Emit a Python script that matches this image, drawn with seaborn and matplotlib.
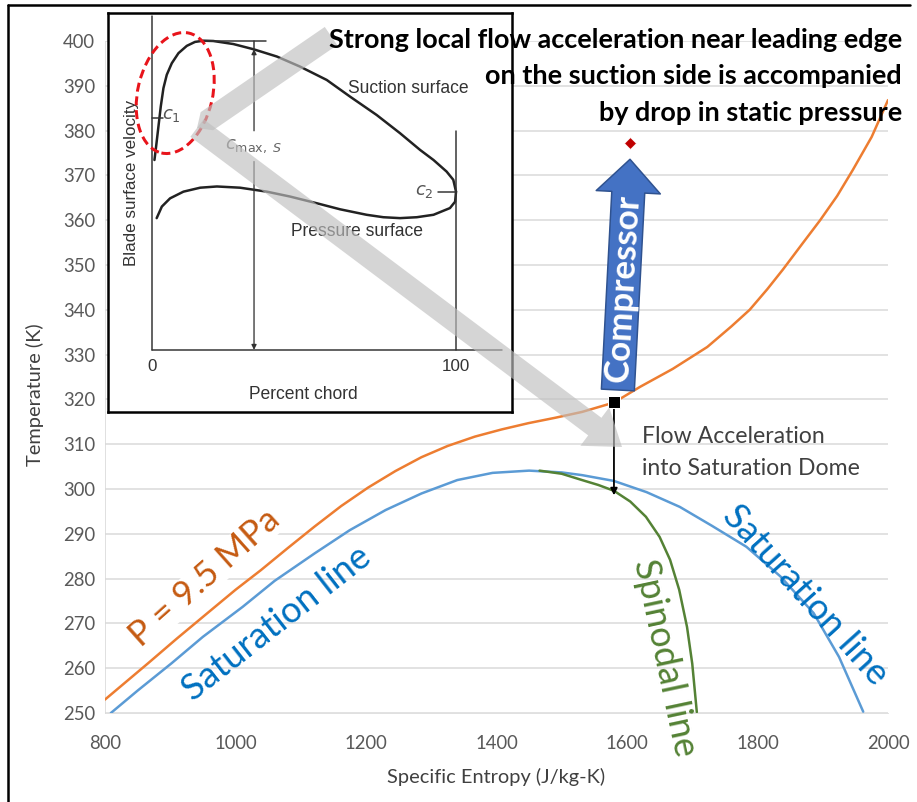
import numpy as np
import matplotlib
matplotlib.use("Agg")
import matplotlib.pyplot as plt
import seaborn as sns
from matplotlib.patches import Ellipse, FancyArrow

# P = 9.5 MPa isobar
isobar_s = [800, 866, 910, 957, 1000, 1039, 1080, 1121, 1162, 1203, 1245, 1285, 1325, 1367, 1408, 1449,
            1490, 1531, 1580, 1620, 1670, 1723, 1760, 1788, 1815, 1839, 1870, 1896, 1922, 1946, 1975, 2000]
isobar_T = [253, 261.1, 266.6, 272.3, 277.5, 281.9, 286.8, 291.6, 296.2, 300.3, 304.0, 307.1, 309.6, 311.7,
            313.3, 314.7, 315.9, 317.2, 319.3, 322.8, 326.8, 331.7, 336.3, 340, 344.6, 349.0, 355.0, 360,
            365.4, 371.2, 378.6, 386.8]

# saturation dome
sat_s = [809, 850, 902, 950, 1011, 1060, 1121, 1175, 1230, 1285, 1340, 1394, 1450, 1500, 1531, 1580,
         1630, 1681, 1730, 1783, 1835, 1886, 1925, 1962]
sat_T = [250, 255, 261.1, 267, 273.7, 279.5, 285.6, 290.8, 295.3, 299, 302, 303.6, 304.1, 303.7, 303.1,
         301.8, 299.3, 296, 291.8, 287.1, 280.5, 272.3, 262.5, 250.3]

# spinodal line
spin_s = [1466, 1500, 1531, 1556, 1580, 1605, 1629, 1650, 1666, 1680, 1692, 1700, 1707]
spin_T = [304.1, 303.4, 302, 300.9, 299.6, 297.2, 293.8, 289.3, 284.2, 277.5, 269.2, 261, 250.2]

# compressor inlet and outlet states
point_in_s, point_in_T = [1580], [319.5]
point_out_s, point_out_T = [1605], [377.2]

# inset: blade surface velocity vs percent chord
suction_x = [0.87, 1.41, 2.18, 2.95, 3.82, 4.92, 6.57, 8.76, 11.5, 14.2, 17.0, 20.2, 26.8, 33.4, 41.1,
             48.7, 57.5, 65.2, 73.9, 81.6, 88.2, 92.6, 96.9, 99.1, 100]
suction_v = [62.4, 66.8, 73.4, 80.0, 86.0, 90.4, 94.2, 97.5, 99.9, 101.2, 101.6, 101.5, 100.5, 98.8, 96.4,
             93.1, 88.7, 83.2, 77.2, 71.2, 65.7, 62.4, 58.6, 55.9, 52.0]
pressure_x = [100, 99.7, 98.0, 92.6, 87.1, 81.6, 76.1, 70.6, 61.9, 54.2, 45.4, 37.8, 29.0, 21.4, 15.9,
              10.4, 6.0, 3.3, 1.6]
pressure_v = [52.0, 48.7, 46.6, 44.4, 43.6, 43.3, 43.6, 44.4, 46.2, 48.2, 50.4, 52.0, 53.3, 53.7, 53.3,
              52.0, 49.8, 47.1, 43.3]

x_ticks = list(range(800, 2001, 200))
y_ticks = list(range(250, 401, 10))

ORANGE = "#ed7d31"
BLUE = "#5b9bd5"
GREEN = "#548235"

sns.set_style("white")
plt.rcParams["font.family"] = ["Lato", "DejaVu Sans"]

W, H = 917, 802
fig = plt.figure(figsize=(W / 72, H / 72), dpi=72)

# main T-s axes
ax = fig.add_axes([105 / W, 1 - 713 / H, 783 / W, 672 / H])
sns.lineplot(x=isobar_s, y=isobar_T, ax=ax, color=ORANGE, lw=2.5, sort=False, estimator=None, zorder=3)
sns.lineplot(x=sat_s, y=sat_T, ax=ax, color=BLUE, lw=2.5, sort=False, estimator=None, zorder=3)
sns.lineplot(x=spin_s, y=spin_T, ax=ax, color=GREEN, lw=2.5, sort=False, estimator=None, zorder=4)
sns.scatterplot(x=point_in_s, y=point_in_T, ax=ax, marker="s", s=160, color="black", zorder=6)
sns.scatterplot(x=point_out_s, y=point_out_T, ax=ax, marker="D", s=70, color="#c00000", zorder=6)

ax.set_xlim(800, 2000)
ax.set_ylim(250, 400)
ax.set_xticks(x_ticks)
ax.set_yticks(y_ticks)
ax.grid(axis="y", color="#d9d9d9", lw=1.5)
ax.grid(axis="x", visible=False)
for side in ["top", "right"]:
    ax.spines[side].set_visible(False)
ax.spines["left"].set_color("#d9d9d9")
ax.spines["bottom"].set_color("#d9d9d9")
ax.tick_params(length=0, labelsize=18.5, labelcolor="#595959")
ax.tick_params(axis="x", pad=22)
ax.tick_params(axis="y", pad=10)
ax.set_xlabel("Specific Entropy (J/kg-K)", fontsize=20, color="#404040")
ax.set_ylabel("Temperature (K)", fontsize=20, color="#404040")
ax.xaxis.set_label_coords(0.5, -0.082)
ax.yaxis.set_label_coords(-0.078, 0.473)

# compressor block arrow
ax.annotate("", xy=(1604.6, 373.6), xytext=(1586, 322.1),
            arrowprops=dict(arrowstyle="simple,head_width=1.07,head_length=0.55,tail_width=0.55",
                            mutation_scale=60, fc="#4472c4", ec="#2f528f", lw=1.5,
                            shrinkA=0, shrinkB=0), zorder=5)
ax.text(1594, 344.9, "Compressor", rotation=86.6, ha="center", va="center",
        color="white", fontsize=35, fontweight="bold", zorder=7)

# flow acceleration arrow
ax.annotate("", xy=(1580, 298.6), xytext=(1580, 319.5),
            arrowprops=dict(arrowstyle="-|>", color="black", lw=1.8, mutation_scale=14,
                            shrinkA=0, shrinkB=0), zorder=5)
ax.text(1623, 311.8, "Flow Acceleration", fontsize=23, color="#404040", va="center")
ax.text(1623, 304.6, "into Saturation Dome", fontsize=23, color="#404040", va="center")

ax.text(953, 280.1, "P = 9.5 MPa", rotation=41.7, ha="center", va="center", fontsize=35,
        color="#c55a11", zorder=4,
        bbox=dict(fc="white", ec="none", pad=0.0))
ax.text(1063, 270.1, "Saturation line", rotation=38, ha="center", va="center", fontsize=36,
        color="#0070c0", zorder=4)
ax.text(1873, 276.3, "Saturation line", rotation=-48, ha="center", va="center", fontsize=36,
        color="#0070c0", zorder=4)
ax.text(1658, 262.3, "Spinodal line", rotation=-78, ha="center", va="center", fontsize=36,
        color=GREEN, zorder=4, clip_on=False)

# inset: blade surface velocity distribution
ax_in = fig.add_axes([108 / W, 1 - 412 / H, 404 / W, 399 / H], zorder=5)
ax_in.set_facecolor("white")
ax_in.set_xlim(-14.4, 118.4)
ax_in.set_ylim(-20.4, 110.7)
ax_in.set_xticks([])
ax_in.set_yticks([])
for sp in ax_in.spines.values():
    sp.set_visible(True)
    sp.set_color("black")
    sp.set_linewidth(2.5)

sns.lineplot(x=suction_x, y=suction_v, ax=ax_in, color="#222222", lw=2.5, sort=False, estimator=None)
sns.lineplot(x=pressure_x, y=pressure_v, ax=ax_in, color="#222222", lw=2.5, sort=False, estimator=None)
ax_in.set_xlabel("")
ax_in.set_ylabel("")

inset_line = dict(color="#333333", lw=1.5)
ax_in.plot([0, 0], [0, 109.8], **inset_line)
ax_in.plot([0, 115], [0, 0], **inset_line)
ax_in.plot([100, 100], [0, 72], **inset_line)
ax_in.plot([0, 3.8], [76.1, 76.1], **inset_line)
ax_in.plot([94, 100], [52, 52], **inset_line)
ax_in.plot([15.9, 37.6], [101.6, 101.6], **inset_line)
ax_in.annotate("", xy=(33.6, 98.8), xytext=(33.6, 72),
               arrowprops=dict(arrowstyle="-|>", color="#333333", lw=1.3, mutation_scale=10,
                               shrinkA=0, shrinkB=0))
ax_in.plot([33.6, 33.6], [98.8, 101.6], **inset_line)
ax_in.annotate("", xy=(33.6, 0), xytext=(33.6, 61.9),
               arrowprops=dict(arrowstyle="-|>", color="#333333", lw=1.3, mutation_scale=10,
                               shrinkA=0, shrinkB=0))

inset_font = ["Liberation Sans", "DejaVu Sans"]
ax_in.text(0, -5.3, "0", ha="center", va="center", fontsize=17, color="#333333", family=inset_font)
ax_in.text(100, -5.3, "100", ha="center", va="center", fontsize=17, color="#333333", family=inset_font)
ax_in.text(49.7, -14.5, "Percent chord", ha="center", va="center", fontsize=17.5, color="#333333",
           family=inset_font)
ax_in.text(-6.8, 55, "Blade surface velocity", rotation=90, ha="center", va="center", fontsize=17,
           color="#333333", family=inset_font)
ax_in.text(84.2, 86, "Suction surface", ha="center", va="center", fontsize=17.5, color="#333333",
           family=inset_font)
ax_in.text(67.5, 39, "Pressure surface", ha="center", va="center", fontsize=17.5, color="#333333",
           family=inset_font)
ax_in.text(6.5, 77, r"$c_1$", ha="center", va="center", fontsize=18, color="#555555")
ax_in.text(89.5, 52, r"$c_2$", ha="center", va="center", fontsize=18, color="#555555")
ax_in.text(33.4, 66.8, r"$c_{\mathrm{max},\ S}$", ha="center", va="center", fontsize=18, color="#666666")

ax_in.add_patch(Ellipse((7.7, 84.4), 24.6, 40.4, angle=-13, fill=False, ec="#e8141b", lw=3,
                        ls=(0, (3, 1.6)), clip_on=False, zorder=6))

# overlay in pixel coordinates for callout arrows and headline
ov = fig.add_axes([0, 0, 1, 1], zorder=10)
ov.set_xlim(0, W)
ov.set_ylim(H, 0)
ov.axis("off")
ov.patch.set_alpha(0)

ov.add_patch(FancyArrow(331, 36, 197 - 331, 128 - 36, width=22, head_width=22, head_length=12,
                        length_includes_head=True, fc="#bfbfbf", ec="none", alpha=0.65))
ov.add_patch(FancyArrow(197, 128, 622 - 197, 447 - 128, width=22, head_width=48, head_length=34,
                        length_includes_head=True, fc="#bfbfbf", ec="none", alpha=0.65))

headline = ["Strong local flow acceleration near leading edge",
            "on the suction side is accompanied",
            "by drop in static pressure"]
for i, line in enumerate(headline):
    ov.text(902, 40 + 36.5 * i, line, ha="right", va="center", fontsize=27, fontweight="bold",
            color="black", zorder=12)

# outer frame (top and left edges)
ov.plot([8, 910], [5, 5], color="black", lw=2.5)
ov.plot([8, 8], [5, 802], color="black", lw=2.5)

fig.savefig("out.png", dpi=72)
